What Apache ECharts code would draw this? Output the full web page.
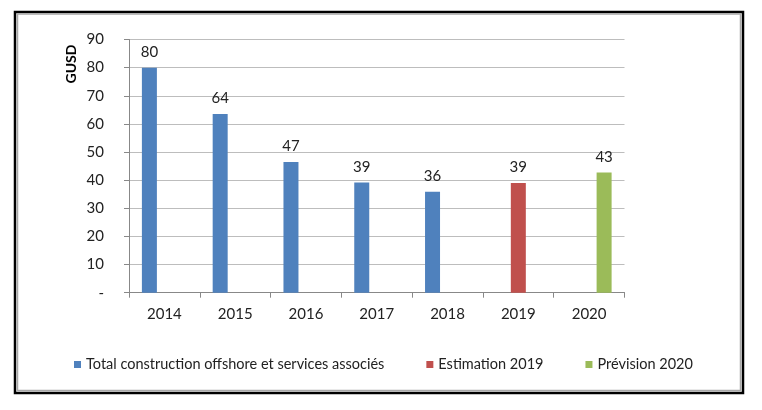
<!DOCTYPE html>
<html>
<head>
<meta charset="utf-8">
<script src="https://cdn.jsdelivr.net/npm/echarts@6/dist/echarts.min.js"></script>
<style>
html,body{margin:0;padding:0;background:#fff;}
#chart{width:762px;height:410px;}
</style>
</head>
<body>
<div id="chart"></div>
<script>
var categories = ['2014','2015','2016','2017','2018','2019','2020'];
var totalValues = [80, 63.5, 46.5, 39.2, 35.9, null, null];
var estimationValues = [null, null, null, null, null, 39, null];
var previsionValues = [null, null, null, null, null, null, 42.7];
var seriesNames = ['Total construction offshore et services associés', 'Estimation 2019', 'Prévision 2020'];
var yTickLabels = {0:'-',10:'10',20:'20',30:'30',40:'40',50:'50',60:'60',70:'70',80:'80',90:'90'};
var axisName = 'GUSD';

var FONT = 'Lato, "Open Sans", sans-serif';
var colors = ['#4F81BD', '#C0504D', '#9BBB59'];

function makeSeries(name, data, color) {
  return {
    name: name,
    type: 'bar',
    data: data,
    barWidth: 15,
    barGap: '0%',
    itemStyle: { color: color },
    label: {
      show: true,
      position: 'top',
      distance: 8,
      color: '#222',
      fontFamily: FONT,
      fontSize: 15,
      formatter: function (p) { return Math.round(p.value); }
    }
  };
}

var chart = echarts.init(document.getElementById('chart'));
chart.setOption({
  animation: false,
  backgroundColor: '#fff',
  color: colors,
  grid: { left: 129, right: 137.5, top: 39.5, bottom: 117.3, containLabel: false },
  legend: {
    data: seriesNames,
    left: 74,
    top: 357,
    padding: 0,
    itemWidth: 7,
    itemHeight: 7,
    itemGap: 42,
    icon: 'rect',
    textStyle: { fontFamily: FONT, fontSize: 14.5, color: '#222' }
  },
  xAxis: {
    type: 'category',
    data: categories,
    axisLine: { lineStyle: { color: '#888', width: 1 } },
    axisTick: { show: true, length: 5, lineStyle: { color: '#888' } },
    axisLabel: { color: '#222', fontFamily: FONT, fontSize: 15, margin: 14 }
  },
  yAxis: {
    type: 'value',
    min: 0,
    max: 90,
    interval: 10,
    axisLine: { show: true, lineStyle: { color: '#888', width: 1 } },
    axisTick: { show: true, length: 5, lineStyle: { color: '#888' } },
    splitLine: { show: true, lineStyle: { color: '#bdbdbd', width: 1 } },
    axisLabel: {
      color: '#222', fontFamily: FONT, fontSize: 15, margin: 25,
      formatter: function (v) { return yTickLabels[v]; }
    }
  },
  graphic: [
    {
      type: 'rect',
      shape: { x: 15, y: 12, width: 728, height: 381 },
      style: { fill: 'none', stroke: '#000', lineWidth: 2.5 },
      silent: true
    },
    {
      type: 'rect',
      shape: { x: 17.5, y: 14, width: 723, height: 376.5 },
      style: { fill: 'none', stroke: '#a8a8a8', lineWidth: 1.5 },
      silent: true
    },
    {
      type: 'text',
      x: 71,
      y: 64,
      rotation: Math.PI / 2,
      style: {
        text: axisName,
        fontFamily: FONT,
        fontSize: 14,
        fontWeight: 'bold',
        fill: '#000',
        align: 'center',
        verticalAlign: 'middle'
      }
    }
  ],
  series: [
    makeSeries(seriesNames[0], totalValues, colors[0]),
    makeSeries(seriesNames[1], estimationValues, colors[1]),
    makeSeries(seriesNames[2], previsionValues, colors[2])
  ]
});
</script>
</body>
</html>
